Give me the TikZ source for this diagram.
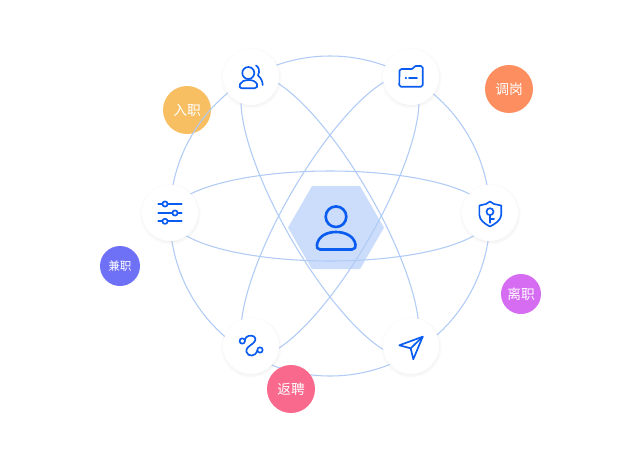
\documentclass[tikz,border=0pt]{standalone}
\usepackage{fontspec}
\newfontfamily\cjk{Noto Sans CJK SC}
\usetikzlibrary{shapes.geometric, shadows, fadings}
\definecolor{orbitBlue}{HTML}{B0CBF6}
\definecolor{iconBlue}{HTML}{0A5CF0}
\definecolor{hexBlue}{HTML}{CBDDFB}
\definecolor{tagYellow}{HTML}{F8BF62}
\definecolor{tagOrange}{HTML}{FC8E5F}
\definecolor{tagViolet}{HTML}{6E70F6}
\definecolor{tagPurple}{HTML}{D56CF1}
\definecolor{tagPink}{HTML}{F9688D}

\begin{document}
\begin{tikzpicture}[
		x=0.02cm, y=-0.02cm,
		% Style for the orbits
		orbit/.style={draw=orbitBlue, line width=0.6pt},
		% Style for the white discs and their icons
		hub/.style={circle, fill=white, minimum size=1.12cm, inner sep=0pt,
			circular drop shadow={shadow xshift=0pt, shadow yshift=-0.5pt, shadow scale=1.1, opacity=0.1}},
		icon/.style={draw=iconBlue, line width=0.95pt, line cap=round, line join=round},
		% Styles for the coloured tags
		tag big/.style={circle, minimum size=0.96cm, inner sep=0pt, text=white, font=\cjk\fontsize{7.8pt}{9pt}\selectfont},
		tag small/.style={circle, minimum size=0.8cm, inner sep=0pt, text=white, font=\cjk\fontsize{6.6pt}{8pt}\selectfont},
		hexbox/.style={regular polygon, regular polygon sides=6, fill=hexBlue, minimum size=1.92cm, inner sep=0pt}
		]
	\useasboundingbox (0,0) rectangle (640,464);
	\fill[white] (0,0) rectangle (640,464);
	\coordinate (mid) at (330,216);

	% Hexagon and the tag under the orbits
	\node[hexbox] (hex) at (336,227.6) {};
	\node[tag big, fill=tagYellow] (join) at (187,110) {入职};

	% Orbits
	\draw[orbit] (mid) circle (160);
	\draw[orbit] (mid) ellipse (160 and 45);
	\draw[orbit, rotate around={60:(mid)}] (mid) ellipse (160 and 45);
	\draw[orbit, rotate around={-60:(mid)}] (mid) ellipse (160 and 45);

	% Discs
	\node[hub] (users) at (251,77) {};
	\node[hub] (folder) at (411,77) {};
	\node[hub] (sliders) at (170,213) {};
	\node[hub] (shield) at (490,213) {};
	\node[hub] (snake) at (251,346) {};
	\node[hub] (send) at (411,346) {};

	% Tags
	\node[tag big, fill=tagOrange] (move) at (509,89) {调岗};
	\node[tag small, fill=tagViolet] (part) at (120,266) {兼职};
	\node[tag small, fill=tagPurple, font=\cjk\fontsize{7.8pt}{9pt}\selectfont] (quit) at (521,294) {离职};
	\node[tag big, fill=tagPink] (back) at (291,389) {返聘};

	% Person
	\draw[icon, line width=1.5pt] (336,216.7) circle (10.3);
	\draw[icon, line width=1.5pt] (320,249.5) .. controls (317,249.5) and (316.5,247) .. (317,244.5)
		.. controls (318.5,236) and (327,232) .. (336,232)
		.. controls (345,232) and (354,236) .. (355.5,244.5)
		.. controls (356,247) and (355,249.5) .. (352,249.5) -- cycle;

	% Users
	\draw[icon] (248.3,73) circle (6);
	\draw[icon] (242.5,88.3) .. controls (239.5,88.3) and (239,86) .. (240,84)
		.. controls (241.5,81) and (245,80) .. (248.3,80)
		.. controls (252,80) and (255.5,81) .. (257,84)
		.. controls (258,86) and (257,88.3) .. (254.5,88.3) -- cycle;
	\draw[icon] (256,65.5) .. controls (259,67) and (260,71) .. (258,75.5)
		.. controls (261,78) and (262.5,81) .. (262.7,85);

	% Folder
	\draw[icon] (399.5,70.5) -- (401.5,69) -- (412,69) -- (415.5,66) -- (421,66)
		.. controls (422,66) and (422.7,66.7) .. (422.7,67.7) -- (422.7,85)
		.. controls (422.7,86) and (422,86.7) .. (421,86.7) -- (401,86.7)
		.. controls (400,86.7) and (399.3,86) .. (399.3,85) -- cycle;
	\draw[icon] (405.5,77.7) -- (406.2,77.7);
	\draw[icon] (409,77.7) -- (417,77.7);

	% Shield
	\draw[icon] (490,201.5) -- (494,204) -- (501.2,205.5) -- (501.2,215)
		.. controls (501.2,220) and (495,224) .. (490,226.5)
		.. controls (485,224) and (479.4,220) .. (479.4,215) -- (479.4,205.5) -- (486,204) -- cycle;
	\draw[icon] (490,211.7) circle (3.5);
	\draw[icon] (490,215.2) -- (490,222.8);
	\draw[icon] (490,219) -- (494,219);

	% Sliders
	\draw[icon] (158.3,204) -- (181.7,204);
	\draw[icon] (158.3,213) -- (181.7,213);
	\draw[icon] (158.3,221.3) -- (181.7,221.3);
	\draw[icon, fill=white] (165,204) circle (2.6);
	\draw[icon, fill=white] (175,213) circle (2.6);
	\draw[icon, fill=white] (165,221.3) circle (2.6);

	% Snake
	\draw[icon] (242.3,341) circle (2.7);
	\draw[icon] (260,350) circle (2.7);
	\draw[icon] (245,339.5) .. controls (245.5,336) and (251,334.5) .. (254,336.5)
		.. controls (257,339) and (255,342) .. (251.5,344.5)
		.. controls (248,347) and (245.5,349) .. (246.5,352)
		.. controls (248,357) and (255.5,357) .. (257.3,350.5);

	% Send
	\draw[icon] (422.7,336.7) -- (399.3,345.3) -- (410.7,348.3) -- (413.3,359.3) -- cycle;
	\draw[icon] (410.7,348.3) -- (422.7,336.7);
\end{tikzpicture}
\end{document}
